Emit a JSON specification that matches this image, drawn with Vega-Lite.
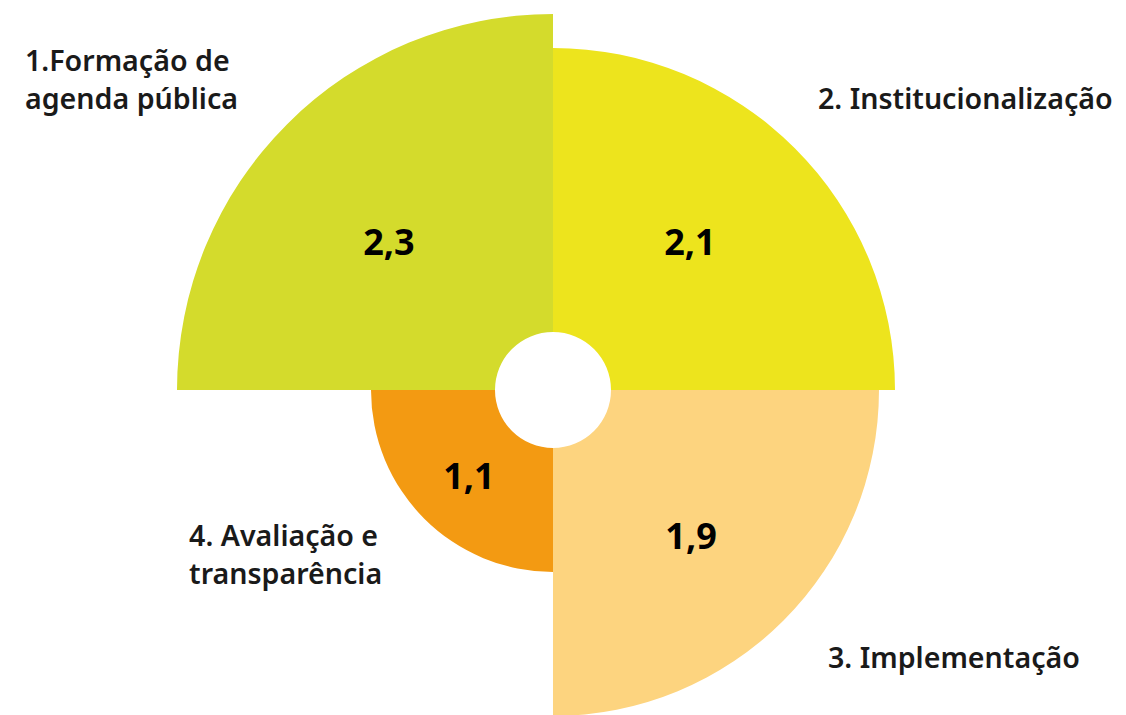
{
  "$schema": "https://vega.github.io/schema/vega-lite/v6.json",
  "width": 1106,
  "height": 650,
  "autosize": {"type": "none"},
  "padding": {"left": 0, "top": 65, "right": 20, "bottom": 0},
  "background": "#ffffff",
  "config": {"view": {"stroke": null}},
  "data": {
    "values": [
      {"n": 1, "dim": "1.Formação de\nagenda pública", "valor": 2.3, "rotulo": "2,3"},
      {"n": 2, "dim": "2. Institucionalização", "valor": 2.1, "rotulo": "2,1"},
      {"n": 3, "dim": "3. Implementação", "valor": 1.9, "rotulo": "1,9"},
      {"n": 4, "dim": "4. Avaliação e\ntransparência", "valor": 1.1, "rotulo": "1,1"}
    ]
  },
  "layer": [
    {
      "mark": {"type": "arc", "innerRadius": 58, "theta2Offset": 1.5708},
      "encoding": {
        "theta": {"field": "n", "type": "quantitative", "stack": null, "scale": {"domain": [1, 4], "range": [-1.5708, 3.1416], "zero": false, "nice": false}},
        "theta2": {"field": "n"},
        "radius": {"field": "valor", "type": "quantitative", "scale": {"type": "linear", "domain": [1.1, 1.9, 2.1, 2.3], "range": [182, 326, 342, 376], "zero": false, "nice": false}},
        "color": {"field": "dim", "type": "nominal", "legend": null, "scale": {"domain": ["1.Formação de\nagenda pública", "2. Institucionalização", "3. Implementação", "4. Avaliação e\ntransparência"], "range": ["#D4DB2C", "#EDE41D", "#FDD47F", "#F39A12"]}}
      }
    },
    {
      "mark": {"type": "text", "font": "Noto Sans", "fontSize": 36, "fontWeight": "bold", "color": "#000000", "align": "center", "baseline": "middle"},
      "encoding": {
        "theta": {"field": "n", "type": "quantitative", "stack": null, "scale": {"domain": [1, 2, 3, 4], "range": [-0.8435, 0.7535, 2.3911, 3.9038], "zero": false, "nice": false}},
        "radius": {"field": "valor", "type": "quantitative", "scale": {"type": "linear", "domain": [1.1, 1.9, 2.1, 2.3], "range": [121.7, 202.4, 200.2, 219.6], "zero": false, "nice": false}},
        "text": {"field": "rotulo", "type": "nominal"}
      }
    },
    {
      "mark": {"type": "text", "font": "Noto Sans", "fontSize": 28.6, "fontWeight": 600, "color": "#1a1a1a", "align": "left", "baseline": "alphabetic", "lineBreak": "\n", "lineHeight": 38},
      "encoding": {
        "theta": {"field": "n", "type": "quantitative", "stack": null, "scale": {"domain": [1, 2, 3, 4], "range": [-1.0273, 0.7561, 2.3616, 4.3074], "zero": false, "nice": false}},
        "radius": {"field": "n", "type": "quantitative", "scale": {"type": "linear", "domain": [1, 2, 3, 4], "range": [616.9, 386.2, 391.0, 396.0], "zero": false, "nice": false}},
        "text": {"field": "dim", "type": "nominal"}
      }
    }
  ],
  "resolve": {"scale": {"theta": "independent", "radius": "independent"}}
}
